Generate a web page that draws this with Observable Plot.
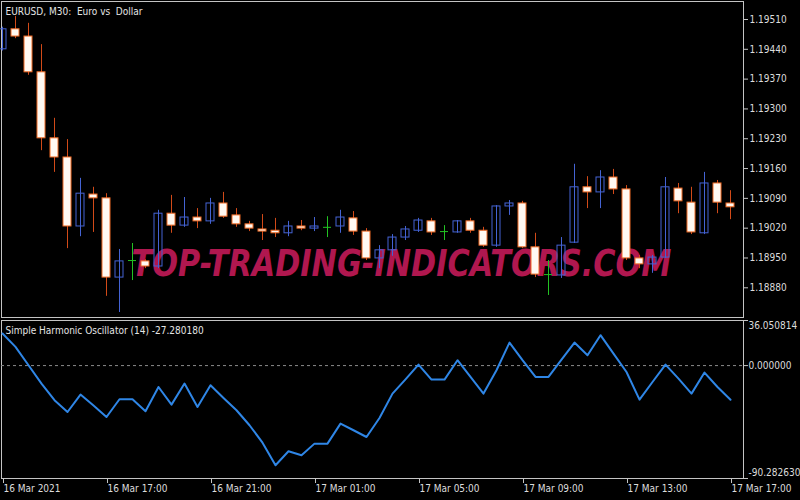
<!DOCTYPE html>
<html>
<head>
<meta charset="utf-8">
<script src="https://cdn.jsdelivr.net/npm/d3@7"></script>
<script src="https://cdn.jsdelivr.net/npm/@observablehq/plot@0.6"></script>
<style>
  html, body { margin: 0; padding: 0; background: #000; }
  #wrap { width: 800px; height: 500px; overflow: hidden; background: #000; }
  #wrap svg { display: block; }
</style>
</head>
<body>
<div id="wrap"></div>
<script>
// ---- Data (EURUSD M30, 16 Mar 13:00 .. 17 Mar 17:00) ----
const open  = [1.19440,1.19487,1.19470,1.19386,1.19231,1.19186,1.19024,1.19099,1.19090,1.18904,
               1.18944,1.18942,1.18930,1.19054,1.19026,1.19045,1.19036,1.19078,1.19050,1.19029,
               1.19017,1.19014,1.19008,1.19024,1.19019,1.19022,1.19024,1.19043,1.19012,1.18949,
               1.18968,1.18998,1.19014,1.19036,1.19012,1.19010,1.19036,1.19014,1.18979,1.19071,
               1.19078,1.18975,1.18911,1.18909,1.18986,1.19116,1.19104,1.19139,1.19111,1.18949,
               1.18935,1.18951,1.19113,1.19080,1.19008,1.19125,1.19078];
const high  = [1.19492,1.19517,1.19501,1.19451,1.19278,1.19228,1.19137,1.19116,1.19101,1.18970,
               1.18984,1.18946,1.19062,1.19097,1.19092,1.19066,1.19090,1.19104,1.19066,1.19036,
               1.19052,1.19043,1.19036,1.19038,1.19045,1.19047,1.19062,1.19059,1.19019,1.18979,
               1.19005,1.19024,1.19043,1.19043,1.19026,1.19038,1.19043,1.19022,1.19073,1.19085,
               1.19083,1.19008,1.18944,1.18998,1.19170,1.19141,1.19155,1.19158,1.19120,1.18956,
               1.18956,1.19139,1.19125,1.19116,1.19151,1.19132,1.19108];
const low   = [1.19436,1.19465,1.19379,1.19202,1.19151,1.18972,1.19000,1.19010,1.18860,1.18822,
               1.18897,1.18925,1.18925,1.19008,1.19022,1.19019,1.19029,1.19043,1.19022,1.19012,
               1.18991,1.18998,1.19000,1.19014,1.19012,1.18998,1.19008,1.19003,1.18944,1.18925,
               1.18954,1.18991,1.19010,1.19003,1.18991,1.19008,1.19008,1.18975,1.18975,1.19050,
               1.18972,1.18904,1.18862,1.18902,1.18984,1.19066,1.19066,1.19099,1.18944,1.18925,
               1.18914,1.18949,1.19054,1.19005,1.19005,1.19054,1.19040];
const close = [1.19487,1.19470,1.19386,1.19231,1.19186,1.19024,1.19101,1.19090,1.18904,1.18942,
               1.18944,1.18930,1.19054,1.19026,1.19045,1.19036,1.19078,1.19047,1.19029,1.19019,
               1.19012,1.19008,1.19024,1.19019,1.19024,1.19022,1.19045,1.19012,1.18949,1.18968,
               1.18998,1.19017,1.19038,1.19010,1.19012,1.19036,1.19014,1.18979,1.19071,1.19078,
               1.18975,1.18911,1.18911,1.18979,1.19116,1.19104,1.19139,1.19111,1.18949,1.18935,
               1.18951,1.19116,1.19083,1.19010,1.19125,1.19080,1.19069];
// Simple Harmonic Oscillator (14)
const sho = [25.6,15.0,0.3,-14.4,-27.7,-37.1,-23.2,-32.0,-41.1,-26.9,
             -26.9,-36.5,-17.1,-31.2,-14.4,-33.1,-15.7,-25.9,-35.7,-47.7,
             -61.6,-79.7,-68.5,-71.7,-62.4,-62.4,-46.4,-51.7,-57.1,-41.9,
             -22.4,-11.0,0.8,-11.2,-11.2,4.3,-9.1,-22.4,-3.7,18.4,
             4.3,-9.1,-9.1,4.8,18.4,8.3,24.3,9.6,-5.1,-27.2,
             -13.1,0.8,-10.4,-22.4,-5.6,-17.1,-27.28018];
const priceTicks = [1.18880,1.18950,1.19020,1.19090,1.19160,1.19230,1.19300,1.19370,1.19440,1.19510];
const oscMax = 36.050814, oscMin = -90.282630;
const timeTickIdx = [0,8,16,24,32,40,48,56];
const timeTickLabels = ["16 Mar 2021","16 Mar 17:00","16 Mar 21:00","17 Mar 01:00",
                        "17 Mar 05:00","17 Mar 09:00","17 Mar 13:00","17 Mar 17:00"];
const chartTitle = "EURUSD, M30:\u00a0 Euro vs\u00a0 Dollar";
const oscTitle = "Simple Harmonic Oscillator (14) -27.280180";
const watermark = "TOP-TRADING-INDICATORS.COM";

// ---- Build ----
const bars = open.map((o, i) => ({i, o, h: high[i], l: low[i], c: close[i]}));
const up = bars.filter(d => d.c > d.o);
const down = bars.filter(d => d.c < d.o);
const doji = bars.filter(d => d.c === d.o);
const osc = sho.map((v, i) => ({i, v}));

const BLUE = "#4463d4", RED = "#d24a18", BODY_EDGE = "#f06a24", BODY = "#fff9f2", GREEN = "#22c322";
const FONT = "'DejaVu Sans Condensed', 'DejaVu Sans', sans-serif";
const hw = 4 / 13;
const xScale = {domain: [0, 56], range: [2, 730], label: null};
const style = {background: "#000", color: "#d8d8d8", fontFamily: FONT, fontSize: "10px"};

const main = Plot.plot({
  width: 800, height: 319,
  marginLeft: 1, marginRight: 57, marginTop: 1, marginBottom: 2,
  style,
  x: {...xScale, axis: null},
  y: {domain: [1.18880, 1.19510], range: [287.3, 19], axis: null, label: null},
  marks: [
    Plot.frame({stroke: "#c4c4c4"}),
    Plot.text([watermark], {frameAnchor: "top-left", dx: 400, dy: 248, textAnchor: "middle",
      fontSize: 38, fontWeight: "bold", fontStyle: "italic", fill: "#b0174f",
      fontFamily: "'DejaVu Sans', sans-serif"}),
    Plot.ruleX(up, {x: "i", y1: "l", y2: "h", stroke: BLUE}),
    Plot.ruleX(down, {x: "i", y1: "l", y2: "h", stroke: RED}),
    Plot.ruleX(doji, {x: "i", y1: "l", y2: "h", stroke: GREEN}),
    Plot.rect(up, {x1: d => d.i - hw, x2: d => d.i + hw, y1: "o", y2: "c", fill: "none", stroke: BLUE}),
    Plot.rect(down, {x1: d => d.i - hw, x2: d => d.i + hw, y1: "o", y2: "c", fill: BODY, stroke: BODY_EDGE}),
    Plot.ruleY(doji, {y: "c", x1: d => d.i - hw, x2: d => d.i + hw, stroke: GREEN}),
    Plot.axisY(priceTicks, {anchor: "right", tickSize: 4, tickPadding: 2, label: null,
      tickFormat: d => d.toFixed(5), stroke: "#c4c4c4", fill: "#dcdcdc"}),
    Plot.text([chartTitle], {frameAnchor: "top-left", dx: 4, dy: 6, textAnchor: "start",
      lineAnchor: "top", fill: "#e4e4e4"})
  ]
});

const lower = Plot.plot({
  width: 800, height: 181,
  marginLeft: 1, marginRight: 57, marginTop: 1, marginBottom: 22,
  style,
  x: {...xScale},
  y: {domain: [oscMin, oscMax], range: [159, 1], axis: null, label: null},
  marks: [
    Plot.frame({stroke: "#c4c4c4"}),
    Plot.ruleY([0], {stroke: "#8a8a8a", strokeDasharray: "3,3"}),
    Plot.line(osc, {x: "i", y: "v", stroke: "#2f86e6", strokeWidth: 2}),
    Plot.axisX(timeTickIdx, {anchor: "bottom", tickSize: 5, tickPadding: 1, textAnchor: "start", dx: 1,
      label: null, tickFormat: d => timeTickLabels[timeTickIdx.indexOf(d)], stroke: "#c4c4c4", fill: "#dcdcdc"}),
    Plot.axisY([oscMax, 0, oscMin], {anchor: "right", tickSize: 4, label: null, stroke: "#c4c4c4", fill: "none"}),
    Plot.text([oscMax], {y: d => d, frameAnchor: "right", dx: 5, dy: 5, textAnchor: "start",
      text: d => d.toFixed(6), fill: "#dcdcdc"}),
    Plot.text([0], {y: d => d, frameAnchor: "right", dx: 5, textAnchor: "start",
      text: d => d.toFixed(6), fill: "#dcdcdc"}),
    Plot.text([oscMin], {y: d => d, frameAnchor: "right", dx: 5, dy: -6, textAnchor: "start",
      text: d => d.toFixed(6), fill: "#dcdcdc"}),
    Plot.text([oscTitle], {frameAnchor: "top-left", dx: 4, dy: 6, textAnchor: "start",
      lineAnchor: "top", fill: "#e4e4e4"})
  ]
});

document.getElementById("wrap").append(main, lower);

// squeeze the watermark horizontally to its drawn width (540px)
d3.select(main).selectAll("text").filter(function() { return this.textContent === watermark; })
  .each(function() {
    const w = this.getComputedTextLength();
    if (w > 0) {
      const t = this.getAttribute("transform") || "";
      this.setAttribute("transform", t + " scale(" + (540 / w) + ",1)");
    }
  });
</script>
</body>
</html>
